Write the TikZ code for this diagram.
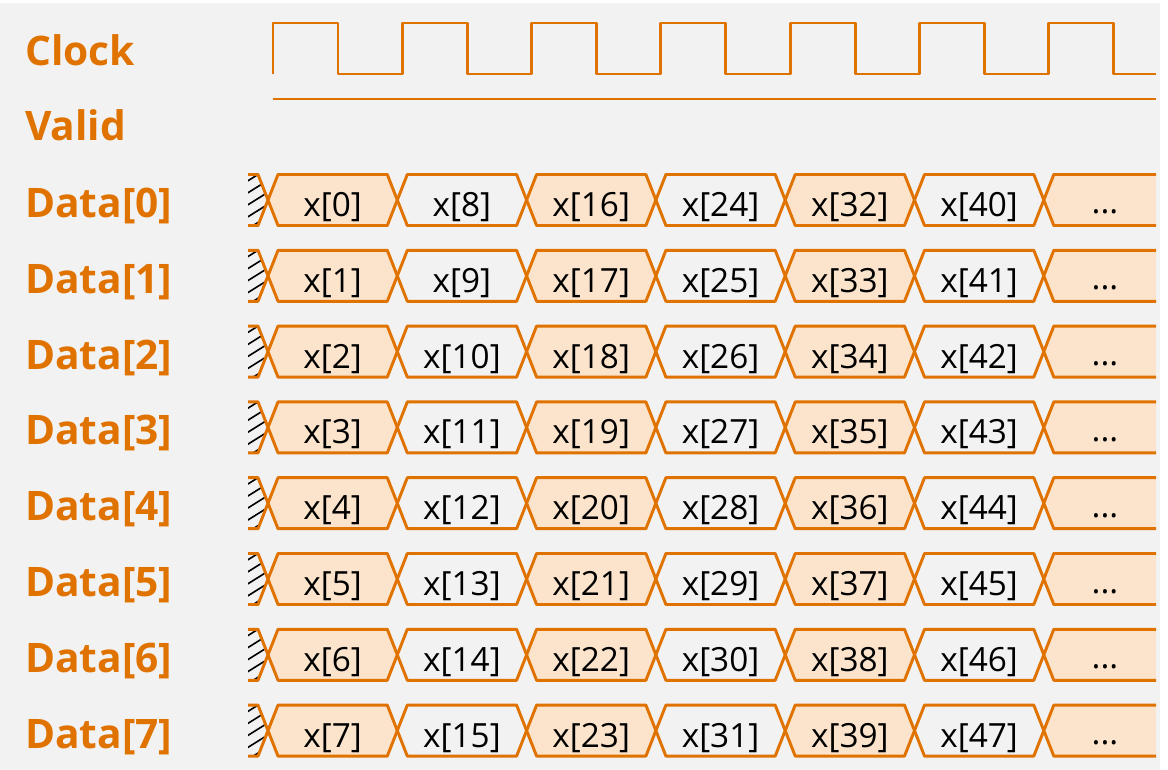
\documentclass[tikz,border=0pt]{standalone}
\usepackage{fontspec}
\setmainfont{Open Sans}
\usetikzlibrary{positioning}
\definecolor{wireorange}{RGB}{224,114,0}
\definecolor{cellfill}{RGB}{252,228,204}
\definecolor{bggray}{RGB}{242,242,242}
\tikzset{
  signame/.style={
    anchor=base west, inner sep=0pt,
    text=wireorange,
    font=\fontsize{30.5}{30.5}\selectfont\bfseries
  },
  cellname/.style={
    anchor=base, inner sep=0pt, text=black,
    font=\fontsize{25}{25}\selectfont
  },
  wave/.style={draw=wireorange, line width=2.2pt, line join=round},
  hatch/.style={black, line width=1.2pt}
}

\begin{document}
\begin{tikzpicture}[x=0.75pt, y=-0.75pt]
\useasboundingbox (0,0) rectangle (1168,770);
\fill[bggray] (0,3) rectangle (1160,770);

% signal names
\node[signame] (clk) at (25,66) {Clock};
\node[signame] (valid) at (25,141) {Valid};

% clock and valid
\draw[wave] (273,74) \foreach \k in {0,...,5} {
    -- ++(0,-51) -- ++(65,0) -- ++(0,51) -- ++(64.3,0)
  } -- ++(0,-51) -- ++(65,0) -- ++(0,51) -- (1156,74);
\draw[wave] (273,99) -- (1156,99);

% data lanes
\foreach \r in {0,...,7} {
  \pgfmathsetmacro{\yc}{200+75.8*\r}
  \node[signame] (data\r) at (25,\yc+17.5) {Data[\r]};
  % unknown start
  \begin{scope}
    \clip (248,\yc-25.5) -- (258,\yc-25.5) -- (268,\yc) -- (258,\yc+25.5) -- (248,\yc+25.5) -- cycle;
    \foreach \h in {0,...,5}
      \draw[hatch] (246,\yc+30-\h*12) -- ++(24,-15);
  \end{scope}
  \draw[wave] (248,\yc-25.5) -- (258,\yc-25.5) -- (268,\yc) -- (258,\yc+25.5) -- (248,\yc+25.5);
  % one word per clock
  \foreach \k in {0,...,5} {
    \pgfmathsetmacro{\xa}{268+129.3*\k}
    \pgfmathsetmacro{\xb}{\xa+129.3}
    \pgfmathtruncatemacro{\n}{8*\k+\r}
    \ifodd\k \def\cf{bggray}\else \def\cf{cellfill}\fi
    \draw[wave, fill=\cf] (\xa,\yc) -- (\xa+10,\yc-25.5) -- (\xb-10,\yc-25.5)
      -- (\xb,\yc) -- (\xb-10,\yc+25.5) -- (\xa+10,\yc+25.5) -- cycle;
    \node[cellname] (x\r-\k) at ({(\xa+\xb)/2},\yc+16.5) {x[\n]};
  }
  % open end
  \fill[cellfill] (1043.8,\yc) -- (1053.8,\yc-25.5) -- (1156,\yc-25.5)
    -- (1156,\yc+25.5) -- (1053.8,\yc+25.5) -- cycle;
  \draw[wave] (1156,\yc-25.5) -- (1053.8,\yc-25.5) -- (1043.8,\yc)
    -- (1053.8,\yc+25.5) -- (1156,\yc+25.5);
  \node[cellname] (x\r-6) at (1105,\yc+14) {...};
}

\end{tikzpicture}
\end{document}
